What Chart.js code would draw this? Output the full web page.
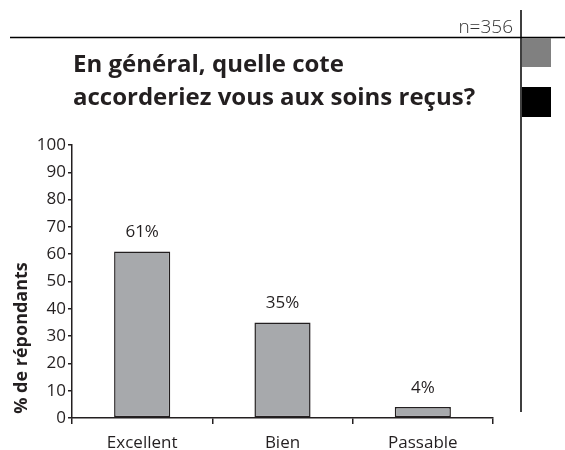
<!DOCTYPE html>
<html>
<head>
<meta charset="utf-8">
<script src="https://cdn.jsdelivr.net/npm/chart.js@4.4.1/dist/chart.umd.min.js"></script>
<style>
  html, body { margin: 0; padding: 0; background: #fff; }
</style>
</head>
<body>
<canvas id="chartBar" width="565" height="450"></canvas>
<script>
// Data
var categories = ['Excellent', 'Bien', 'Passable'];
var percents = [61, 35, 4];
var valueLabels = ['61%', '35%', '4%'];
var yTicks = [0, 10, 20, 30, 40, 50, 60, 70, 80, 90, 100];

var titleLines = ['En général, quelle cote', 'accorderiez vous aux soins reçus?'];
var sampleText = 'n=356';
var yAxisTitle = '% de répondants';

var fontName = "'Open Sans', sans-serif";
var ink = '#231f20';

// page decorations: title, n=, frame lines, side squares, axis title, bar labels
var decor = {
  id: 'decor',
  afterDatasetsDraw: function(chart) {
    var c = chart.ctx;
    c.save();

    // value above each bar
    c.fillStyle = ink;
    c.font = '17px ' + fontName;
    c.textAlign = 'center';
    c.textBaseline = 'middle';
    chart.getDatasetMeta(0).data.forEach(function(bar, i) {
      c.fillText(valueLabels[i], bar.x, bar.y - 19);
    });
    c.restore();
  },
  afterDraw: function(chart) {
    var c = chart.ctx;
    c.save();

    // frame lines
    c.strokeStyle = '#000';
    c.lineWidth = 1.5;
    c.beginPath();
    c.moveTo(10, 37.5); c.lineTo(565, 37.5);
    c.moveTo(521, 10); c.lineTo(521, 412);
    c.stroke();

    // side squares
    c.fillStyle = '#808080';
    c.fillRect(522, 38, 29, 29);
    c.fillStyle = '#000';
    c.fillRect(522, 87, 29, 30);

    // n=
    c.fillStyle = '#333';
    c.font = '300 19px ' + fontName;
    c.textAlign = 'right';
    c.textBaseline = 'alphabetic';
    c.fillText(sampleText, 513, 33);

    // title
    c.fillStyle = ink;
    c.font = 'bold 24px ' + fontName;
    c.textAlign = 'left';
    c.fillText(titleLines[0], 73, 72);
    c.fillText(titleLines[1], 73, 105);

    // y axis title
    c.translate(22, 338);
    c.rotate(-Math.PI / 2);
    c.font = 'bold 18px ' + fontName;
    c.textAlign = 'center';
    c.textBaseline = 'middle';
    c.fillText(yAxisTitle, 0, 0);

    c.restore();
  }
};

var ctx = document.getElementById('chartBar');

var chartBar = new Chart(ctx, {
  type: 'bar',
  data: {
    labels: categories,
    datasets: [{
      data: percents,
      backgroundColor: '#a7a9ac',
      borderColor: ink,
      borderWidth: 1.5,
      borderSkipped: false,
      barPercentage: 0.4,
      categoryPercentage: 1
    }]
  },
  options: {
    responsive: false,
    animation: false,
    layout: { padding: { left: 0, top: 145, right: 72, bottom: 0 } },
    plugins: {
      legend: { display: false },
      tooltip: { enabled: false }
    },
    scales: {
      x: {
        grid: { drawOnChartArea: false, tickLength: 6, color: ink, lineWidth: 1.5 },
        border: { color: ink, width: 1.5 },
        ticks: { color: ink, font: { family: fontName, size: 17 }, padding: 9 },
        afterFit: function(s) { s.height = 32; }
      },
      y: {
        min: 0,
        max: 100,
        afterBuildTicks: function(s) {
          s.ticks = yTicks.map(function(v) { return { value: v }; });
        },
        grid: { drawOnChartArea: false, tickLength: 4, color: ink, lineWidth: 1.5 },
        border: { color: ink, width: 1.5 },
        ticks: { color: ink, font: { family: fontName, size: 17 }, padding: 2 },
        afterFit: function(s) { s.width = 72; }
      }
    }
  },
  plugins: [decor]
});
</script>
</body>
</html>
